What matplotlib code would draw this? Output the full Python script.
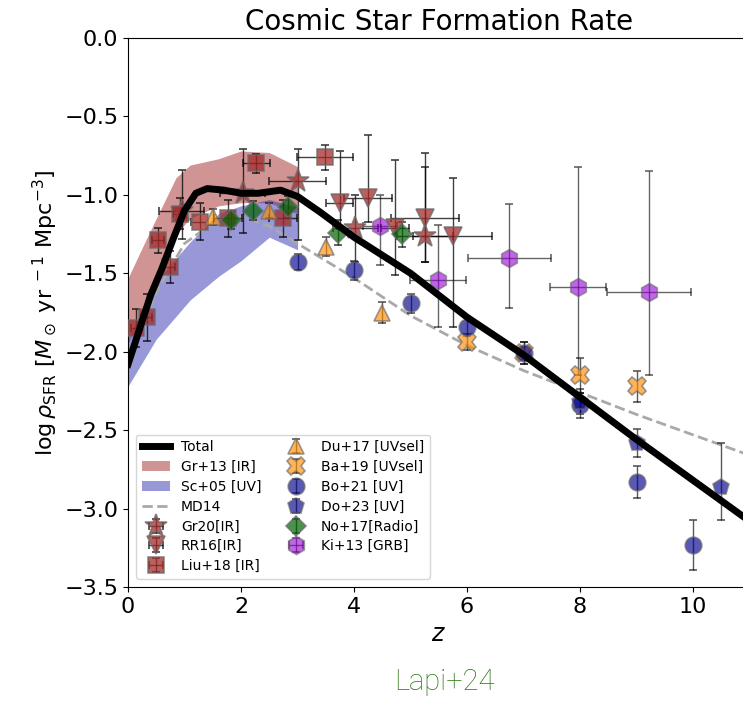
import numpy as np
import matplotlib
matplotlib.use("Agg")
import matplotlib.pyplot as plt

# ---- data ----
# total model
tot_z = [0, 0.2, 0.4, 0.6, 0.8, 1.0, 1.2, 1.4, 1.7, 2.0, 2.3, 2.7, 3.0, 3.4, 4.0, 5.0, 6.0, 7.0, 8.0, 9.0, 10.0, 11.0]
tot_y = [-2.08, -1.86, -1.64, -1.47, -1.28, -1.10, -0.99, -0.96, -0.97, -0.99, -0.99, -0.97, -1.01, -1.11, -1.27, -1.50, -1.78, -2.02, -2.29, -2.56, -2.82, -3.08]

# MD14 fit
md_z = [0, 0.5, 1, 1.5, 2, 2.5, 3, 4, 5, 6, 7, 8, 9, 10, 11]
md_y = [-2.08, -1.62, -1.31, -1.18, -1.14, -1.20, -1.31, -1.53, -1.77, -1.96, -2.12, -2.26, -2.40, -2.53, -2.66]

# Gr+13 [IR] band
gr13_z = [0.0, 0.3, 0.5, 0.85, 1.1, 1.6, 2.0, 2.5, 3.0]
gr13_lo = [-1.95, -1.70, -1.50, -1.25, -1.15, -1.07, -1.05, -1.05, -1.12]
gr13_hi = [-1.53, -1.30, -1.15, -0.89, -0.81, -0.77, -0.72, -0.73, -0.82]

# Sc+05 [UV] band
sc_z = [0.0, 0.5, 1.1, 1.6, 2.0, 2.5, 3.0]
sc_lo = [-2.22, -1.92, -1.67, -1.52, -1.42, -1.27, -1.35]
sc_hi = [-1.92, -1.55, -1.30, -1.12, -1.07, -1.03, -1.08]

# Gr20 [IR]
gr20_z = [0.95, 2.03, 3.0, 4.02, 5.26]
gr20_y = [-1.10, -0.99, -0.91, -1.21, -1.26]
gr20_xerr = [0.4, 0.4, 0.5, 0.4, 0.5]
gr20_ylo = [0.18, 0.25, 0.38, 0.22, 0.17]
gr20_yhi = [0.26, 0.28, 0.20, 0.21, 0.44]

# RR16 [IR]
rr16_z = [3.75, 4.25, 4.73, 5.26, 5.75]
rr16_y = [-1.05, -1.02, -1.21, -1.15, -1.26]
rr16_xerr = [0.24, 0.43, 0.25, 0.6, 0.7]
rr16_ylo = [0.17, 0.15, 0.30, 0.28, 0.58]
rr16_yhi = [0.33, 0.40, 0.43, 0.42, 0.37]

# Liu+18 [IR]
liu_z = [0.15, 0.33, 0.53, 0.74, 0.92, 1.27, 1.77, 2.27, 2.74, 3.49]
liu_y = [-1.85, -1.78, -1.29, -1.46, -1.12, -1.17, -1.15, -0.80, -1.15, -0.76]
liu_xerr = [0.1, 0.1, 0.1, 0.1, 0.12, 0.15, 0.25, 0.24, 0.25, 0.5]
liu_yerr = [0.12, 0.15, 0.08, 0.10, 0.10, 0.12, 0.12, 0.06, 0.12, 0.08]

# Du+17 [UVsel]
du_z = [1.5, 2.5, 3.5, 4.5]
du_y = [-1.14, -1.10, -1.33, -1.75]
du_yerr = [0.05, 0.05, 0.06, 0.07]

# Ba+19 [UVsel]
ba_z = [6, 7, 8, 9]
ba_y = [-1.94, -2.01, -2.15, -2.22]
ba_yerr = [0.05, 0.07, 0.11, 0.10]

# Bo+21 [UV]
bo_z = [3, 4, 5, 6, 7, 8, 9, 10]
bo_y = [-1.43, -1.48, -1.69, -1.84, -2.01, -2.34, -2.83, -3.23]
bo_yerr = [0.05, 0.06, 0.06, 0.06, 0.07, 0.08, 0.10, 0.16]

# Do+23 [UV]
do_z = [8, 9, 10.5]
do_y = [-2.32, -2.58, -2.86]
do_ylo = [0.08, 0.09, 0.21]
do_yhi = [0.08, 0.09, 0.28]

# No+17 [Radio]
no_z = [1.83, 2.21, 2.83, 3.72, 4.85]
no_y = [-1.16, -1.10, -1.08, -1.24, -1.25]
no_yerr = [0.06, 0.06, 0.07, 0.08, 0.08]

# Ki+13 [GRB]
ki_z = [4.46, 5.49, 6.75, 7.96, 9.22]
ki_y = [-1.20, -1.54, -1.40, -1.59, -1.62]
ki_xerr = [0.3, 0.5, 0.74, 0.5, 0.74]
ki_ylo = [0.25, 0.30, 0.32, 0.56, 0.53]
ki_yhi = [0.20, 0.35, 0.34, 0.77, 0.77]

# ---- figure ----
fig = plt.figure(figsize=(7.43, 7.01), dpi=100)
ax = fig.add_axes([0.1723, 0.1626, 0.8365, 0.7832])

ax.fill_between(gr13_z, gr13_lo, gr13_hi, color="brown", alpha=0.5, lw=0, label="Gr+13 [IR]")
ax.fill_between(sc_z, sc_lo, sc_hi, color=(0.2, 0.2, 0.7), alpha=0.5, lw=0, label="Sc+05 [UV]")
ax.plot(md_z, md_y, ls="--", color="darkgray", lw=2, label="MD14", zorder=2)
ax.plot(tot_z, tot_y, color="k", lw=5, label="Total", zorder=4)

ebkw = dict(ls="none", ecolor="k", elinewidth=1, capsize=3, markeredgecolor="dimgray",
            markeredgewidth=1.2, zorder=3)

ax.errorbar(gr20_z, gr20_y, xerr=gr20_xerr, yerr=[gr20_ylo, gr20_yhi], marker="*", ms=17,
            mfc="brown", alpha=0.75, label="Gr20[IR]", **ebkw)
ax.errorbar(rr16_z, rr16_y, xerr=rr16_xerr, yerr=[rr16_ylo, rr16_yhi], marker="v", ms=13,
            mfc="brown", alpha=0.75, label="RR16[IR]", **ebkw)
ax.errorbar(liu_z, liu_y, xerr=liu_xerr, yerr=liu_yerr, marker="s", ms=12,
            mfc="brown", alpha=0.75, label="Liu+18 [IR]", **ebkw)
ax.errorbar(du_z, du_y, yerr=du_yerr, marker="^", ms=12,
            mfc="darkorange", alpha=0.65, label="Du+17 [UVsel]", **ebkw)
ax.errorbar(ba_z, ba_y, yerr=ba_yerr, marker="X", ms=13,
            mfc="darkorange", alpha=0.65, label="Ba+19 [UVsel]", **ebkw)
ax.errorbar(bo_z, bo_y, yerr=bo_yerr, marker="o", ms=12,
            mfc="darkblue", alpha=0.65, label="Bo+21 [UV]", **ebkw)
ax.errorbar(do_z, do_y, yerr=[do_ylo, do_yhi], marker="p", ms=12,
            mfc="darkblue", alpha=0.65, label="Do+23 [UV]", **ebkw)
ax.errorbar(no_z, no_y, yerr=no_yerr, marker="D", ms=10,
            mfc="darkgreen", alpha=0.7, label="No+17[Radio]", **ebkw)
ax.errorbar(ki_z, ki_y, xerr=ki_xerr, yerr=[ki_ylo, ki_yhi], marker="h", ms=13,
            mfc="darkviolet", alpha=0.6, label="Ki+13 [GRB]", **ebkw)

ax.set_xlim(0, 11)
ax.set_ylim(-3.5, 0)
ax.set_xticks([0, 2, 4, 6, 8, 10])
ax.set_yticks(np.arange(-3.5, 0.01, 0.5))
ax.tick_params(labelsize=16)
ax.set_xlabel(r"$z$", fontsize=17)
ax.set_ylabel(r"$\log\rho_{\rm SFR}\ [M_\odot\ {\rm yr}^{\ -1}\ {\rm Mpc}^{-3}]$", fontsize=16)
ax.set_title("Cosmic Star Formation Rate", fontsize=20)

h, l = ax.get_legend_handles_labels()
order = ["Total", "Gr+13 [IR]", "Sc+05 [UV]", "MD14", "Gr20[IR]", "RR16[IR]", "Liu+18 [IR]",
         "Du+17 [UVsel]", "Ba+19 [UVsel]", "Bo+21 [UV]", "Do+23 [UV]", "No+17[Radio]", "Ki+13 [GRB]"]
hd = dict(zip(l, h))
ax.legend([hd[k] for k in order], order, loc="lower left", ncol=2, fontsize=10,
          borderaxespad=0.6, columnspacing=1.5, markerscale=1.0, labelspacing=0.42)

fig.text(0.598, 0.027, "Lapi+24", color="#2c7a18", fontsize=21, fontweight="light",
         family="Roboto", ha="center", va="center")

fig.savefig("out.png", dpi=100)
